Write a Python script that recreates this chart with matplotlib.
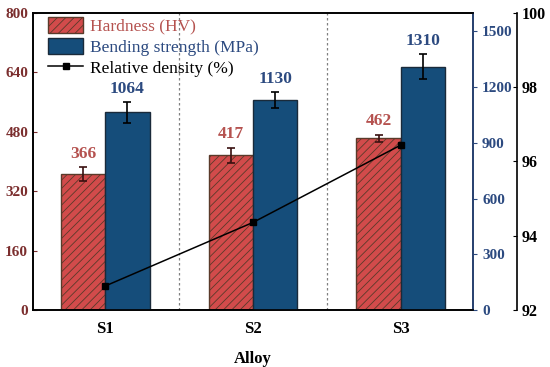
import numpy as np
import matplotlib.pyplot as plt

plt.rcParams['font.family'] = ['Liberation Serif', 'DejaVu Serif']
plt.rcParams['hatch.color'] = '#8e2a2a'
plt.rcParams['hatch.linewidth'] = 0.6

alloys = ['S1', 'S2', 'S3']
hardness = [366, 417, 462]
hardness_err = [18, 20, 10]
strength = [1064, 1130, 1310]
strength_err = [55, 43, 67]
density = [92.65, 94.36, 96.44]

red = '#d24b4b'
red_txt = '#b5524f'
red_tick = '#7b2e2e'
blue = '#154d7a'
blue_tick = '#2c4a80'

x = np.arange(len(alloys))
w = 0.30

fig = plt.figure(figsize=(5.5, 3.67), dpi=100)
ax = fig.add_axes([0.06, 0.155, 0.8, 0.81])
ax2 = ax.twinx()
ax3 = ax.twinx()
ax3.spines['right'].set_position(('axes', 1.1))

b1 = ax.bar(x - w/2, hardness, w, yerr=hardness_err, color=red, edgecolor='#5a3a2a',
            hatch='////', linewidth=1, capsize=3, error_kw=dict(ecolor='#3a1010', elinewidth=1.2, capthick=1.2))
b2 = ax2.bar(x + w/2, strength, w, yerr=strength_err, color=blue, edgecolor='#1a2a3a',
             linewidth=1, capsize=3, error_kw=dict(ecolor='black', elinewidth=1.2, capthick=1.2))
l3, = ax3.plot(x, density, color='black', marker='s', markersize=5, linewidth=1.1)

for i in range(len(alloys)):
    ax.text(x[i] - w/2, hardness[i] + hardness_err[i] + 15, str(hardness[i]), color=red_txt,
            ha='center', va='bottom', fontsize=12.5, fontweight='bold')
    ax2.text(x[i] + w/2, strength[i] + strength_err[i] + 30, str(strength[i]), color=blue_tick,
             ha='center', va='bottom', fontsize=12.5, fontweight='bold')

for d in [0.5, 1.5]:
    ax.axvline(d, color='gray', linestyle=(0, (2, 2)), linewidth=0.9)

ax.set_xlim(-0.49, 2.49)
ax.set_ylim(0, 800)
ax.set_yticks(np.arange(0, 801, 160))
ax2.set_ylim(0, 1600)
ax2.set_yticks(np.arange(0, 1501, 300))
ax3.set_ylim(92, 100)
ax3.set_yticks([92, 94, 96, 98, 100])

ax.set_xticks(x)
ax.set_xticklabels(alloys, fontsize=12, fontweight='bold')
ax.tick_params(axis='x', length=0, pad=8)
ax.set_xlabel('Alloy', fontsize=12, fontweight='bold', labelpad=10)

ax.tick_params(axis='y', colors=red_tick, labelsize=11, length=3, direction='in')
for t in ax.get_yticklabels():
    t.set_fontweight('bold')
ax2.tick_params(axis='y', colors=blue_tick, labelsize=11, length=3)
for t in ax2.get_yticklabels():
    t.set_fontweight('bold')
ax3.tick_params(axis='y', colors='black', labelsize=11.5, length=3, direction='in')
for t in ax3.get_yticklabels():
    t.set_fontweight('bold')

for a in [ax, ax2, ax3]:
    for s in a.spines.values():
        s.set_linewidth(1.2)
ax2.spines['right'].set_color(blue_tick)
ax3.spines['top'].set_visible(False)
ax3.spines['bottom'].set_visible(False)
ax3.spines['left'].set_visible(False)

labels = ['Hardness (HV)', 'Bending strength (MPa)', 'Relative density (%)']
leg = ax.legend([b1, b2, l3], labels, loc='upper left', frameon=False, fontsize=12.5,
                handlelength=2.0, handleheight=1.0, handletextpad=0.4,
                bbox_to_anchor=(0.015, 1.015), borderaxespad=0.1, labelspacing=0.2)
for t, c in zip(leg.get_texts(), [red_txt, blue_tick, 'black']):
    t.set_color(c)

fig.savefig('out.png', dpi=100)
